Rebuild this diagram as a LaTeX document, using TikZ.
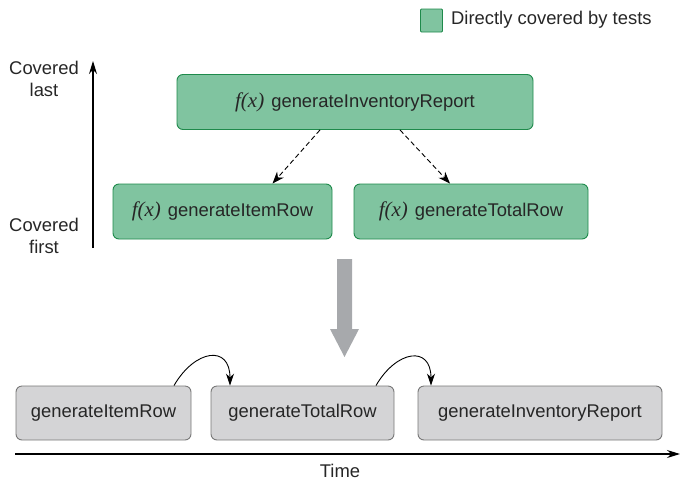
\documentclass[tikz,border=0pt]{standalone}
\usepackage{fontspec}
\setmainfont{Liberation Sans}
\newfontfamily\fxfont{Liberation Serif}
\usetikzlibrary{arrows.meta}
\definecolor{gfill}{RGB}{128,196,160}
\definecolor{gdraw}{RGB}{30,138,75}
\definecolor{nfill}{RGB}{212,212,214}
\definecolor{ndraw}{RGB}{120,120,120}
\definecolor{bigarrow}{RGB}{167,169,172}
\definecolor{txt}{RGB}{38,38,38}
\newcommand{\fx}{{\fontsize{21}{24}\fxfont\itshape f(x)}\hspace{7pt}}
\tikzset{
  every node/.style={font=\fontsize{18.4}{22}\selectfont, text=txt},
  greenbox/.style={draw=gdraw, fill=gfill, line width=0.9pt, rounded corners=6pt, inner sep=0pt},
  graybox/.style={draw=ndraw, fill=nfill, line width=0.9pt, rounded corners=6pt, inner sep=0pt},
  dasharrow/.style={dash pattern=on 5pt off 3pt, line width=0.9pt, -{Stealth[length=12pt,width=9pt]}},
  curvearrow/.style={line width=0.9pt, -{Stealth[length=12pt,width=8pt]}},
  axisarrow/.style={line width=1.2pt, -{Stealth[length=13pt,width=8pt]}},
}
\begin{document}
\begin{tikzpicture}[x=1pt,y=-1pt]
\useasboundingbox (0,0) rectangle (680,480);
% legend
\node[greenbox, rounded corners=1pt, minimum width=22pt, minimum height=23pt] (leg) at (431.5,20.5) {};
\node[anchor=west, inner sep=0pt] (legtxt) at (451,20) {Directly covered by tests};
% vertical axis
\coordinate (vbot) at (93,248);
\coordinate (vtop) at (93,61);
\draw[axisarrow] (vbot) -- (vtop);
\node[align=center, inner sep=0pt] (clast) at (44,79) {Covered\\last};
\node[align=center, inner sep=0pt] (cfirst) at (44,236) {Covered\\first};
% green nodes
\node[greenbox, minimum width=356pt, minimum height=55pt] (top) at (355,102) {\fx generateInventoryReport};
\node[greenbox, minimum width=219pt, minimum height=55pt] (left) at (222.5,211.5) {\fx generateItemRow};
\node[greenbox, minimum width=234pt, minimum height=55pt] (right) at (471,211.5) {\fx generateTotalRow};
\draw[dasharrow] ([xshift=-35pt]top.south) -- ([xshift=50pt]left.north);
\draw[dasharrow] ([xshift=45pt]top.south) -- ([xshift=-21pt]right.north);
% big gray arrow
\fill[bigarrow] (337,259) -- (352,259) -- (352,329) -- (359,329) -- (344.5,357) -- (330,329) -- (337,329) -- cycle;
% gray nodes
\node[graybox, minimum width=175pt, minimum height=54pt] (n1) at (103.5,413) {generateItemRow};
\node[graybox, minimum width=183pt, minimum height=54pt] (n2) at (302.5,413) {generateTotalRow};
\node[graybox, minimum width=244pt, minimum height=54pt] (n3) at (540,413) {generateInventoryReport};
\draw[curvearrow] ([xshift=70.5pt]n1.north) to[out=60,in=90,looseness=1.9] ([xshift=-72.5pt]n2.north);
\draw[curvearrow] ([xshift=73.5pt]n2.north) to[out=60,in=90,looseness=1.9] ([xshift=-109pt]n3.north);
% time axis
\coordinate (tl) at (15,454);
\coordinate (tr) at (680,454);
\draw[axisarrow] (tl) -- (tr);
\node[inner sep=0pt] (time) at (340,471) {Time};
\end{tikzpicture}
\end{document}
